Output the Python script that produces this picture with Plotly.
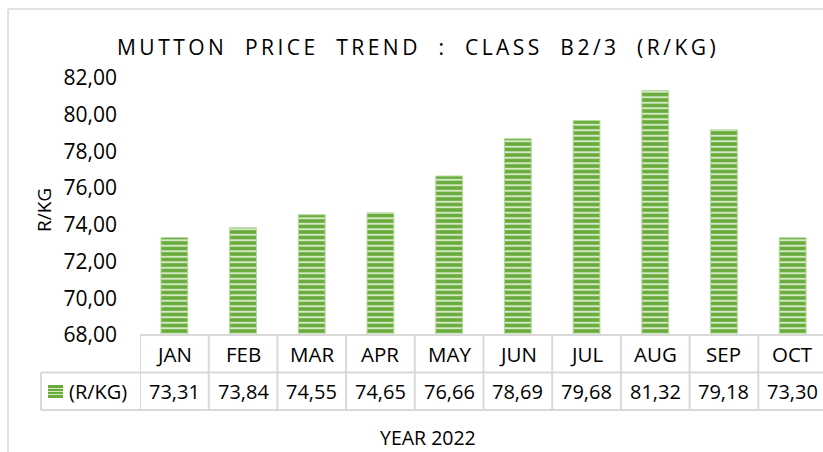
import plotly.graph_objects as go

months = ["JAN", "FEB", "MAR", "APR", "MAY", "JUN", "JUL", "AUG", "SEP", "OCT"]
prices = [73.31, 73.84, 74.55, 74.65, 76.66, 78.69, 79.68, 81.32, 79.18, 73.30]
series_name = "(R/KG)"
title_text = "MUTTON PRICE TREND : CLASS B2/3 (R/KG)"
y_title = "R/KG"
x_title = "YEAR 2022"

W, H = 823, 452
L, T, R, B = 140, 78, 823, 335
PW, PH = R - L, B - T


def px(x):
    return (x - L) / PW


def py(y):
    return (B - y) / PH


def spaced(s):
    out = []
    for w in s.split(" "):
        out.append("\u2009".join(list(w)))
    return "\u2003".join(out)


FONT = "Open Sans, Noto Sans, sans-serif"
GREEN = "#6aab3d"
LIGHT = "#d3eac4"
GRID = "#d9d9d9"

fig = go.Figure()
fig.add_trace(go.Bar(
    x=list(range(len(months))), y=prices, width=0.39,
    name=series_name,
    marker=dict(
        color=GREEN,
        line=dict(color="#b5d99c", width=1),
        pattern=dict(shape="-", fillmode="replace", bgcolor=GREEN,
                     fgcolor=LIGHT, size=5.5, solidity=0.35),
    ),
    showlegend=False,
))

shapes = []
n = len(months)
shapes.append(dict(type="line", xref="x", yref="paper", x0=-0.5, x1=n - 0.5,
                   y0=py(335), y1=py(335), line=dict(color=GRID, width=2)))
shapes.append(dict(type="line", xref="paper", yref="paper", x0=px(41), x1=1.02,
                   y0=py(372.5), y1=py(372.5), line=dict(color=GRID, width=2)))
shapes.append(dict(type="line", xref="paper", yref="paper", x0=px(41), x1=1.02,
                   y0=py(410), y1=py(410), line=dict(color=GRID, width=2)))
shapes.append(dict(type="line", xref="paper", yref="paper", x0=px(41), x1=px(41),
                   y0=py(372.5), y1=py(410), line=dict(color=GRID, width=2)))
for i in range(n + 1):
    shapes.append(dict(type="line", xref="x", yref="paper", x0=i - 0.5, x1=i - 0.5,
                       y0=py(335), y1=py(410), line=dict(color=GRID, width=2)))
# legend key
shapes.append(dict(type="rect", xref="paper", yref="paper", x0=px(48), x1=px(63),
                   y0=py(398), y1=py(385), fillcolor=GREEN, line=dict(width=0)))
for yy in (388.5, 391.5, 394.5):
    shapes.append(dict(type="line", xref="paper", yref="paper", x0=px(48), x1=px(63),
                       y0=py(yy), y1=py(yy), line=dict(color=LIGHT, width=1)))
# outer chart frame
shapes.append(dict(type="line", xref="paper", yref="paper", x0=px(8), x1=px(8),
                   y0=py(9), y1=py(460), line=dict(color=GRID, width=1.5)))
shapes.append(dict(type="line", xref="paper", yref="paper", x0=px(8), x1=px(830),
                   y0=py(9), y1=py(9), line=dict(color=GRID, width=1.5)))


def note(x, y, text, size, xref="paper", xanchor="center", **kw):
    return dict(x=x, y=y, xref=xref, yref="paper", text=text, showarrow=False,
                xanchor=xanchor, yanchor="middle",
                font=dict(family=FONT, size=size, color="#000"), **kw)


ann = []
for i, (m, v) in enumerate(zip(months, prices)):
    ann.append(note(i, py(353.5), m, 20.5, xref="x"))
    ann.append(note(i, py(391), f"{v:.2f}".replace(".", ","), 20, xref="x"))
ann.append(note(px(67), py(391), series_name, 20, xanchor="left"))
ann.append(note(px(428), py(437), x_title, 19.5))
ann.append(note(px(44), py(210), y_title, 19, textangle=-90))
ann.append(note(px(416), py(47), spaced(title_text), 21))

fig.update_layout(
    width=W, height=H, autosize=False,
    margin=dict(l=L, r=W - R, t=T, b=H - B, pad=0),
    paper_bgcolor="white", plot_bgcolor="white",
    separators=",.",
    showlegend=False,
    xaxis=dict(range=[-0.5, n - 0.5 - 4 / 68.7], showticklabels=False, showgrid=False,
               zeroline=False, showline=False, fixedrange=True),
    yaxis=dict(range=[68, 82], dtick=2, tick0=68, tickformat=".2f", showgrid=False,
               zeroline=False, showline=False, ticks="", ticklabelstandoff=22,
               tickfont=dict(family=FONT, size=21, color="#000")),
    shapes=shapes, annotations=ann,
)
fig.write_html("out.html", config={"displayModeBar": False},
               post_script="document.body.style.margin='0';document.body.style.overflow='hidden';")
